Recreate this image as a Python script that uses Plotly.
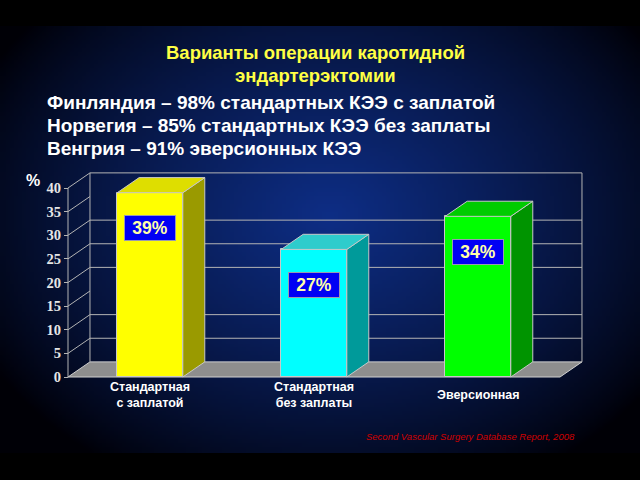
import base64, struct, zlib
import numpy as np
import plotly.graph_objects as go

# ---------------- data ----------------
categories = ["Стандартная<br>с заплатой", "Стандартная<br>без заплаты", "Эверсионная"]
values = [39, 27, 34]
value_labels = ["39%", "27%", "34%"]
y_ticks = [0, 5, 10, 15, 20, 25, 30, 35, 40]
back_grid = [5, 10, 20, 25, 30, 40]
title_lines = ["Варианты операции каротидной", "эндартерэктомии"]
body_lines = [
    "Финляндия – 98% стандартных КЭЭ с заплатой",
    "Норвегия – 85% стандартных КЭЭ без заплаты",
    "Венгрия – 91% эверсионных КЭЭ",
]
source_text = "Second Vascular Surgery Database Report, 2008"

# ---------------- style ----------------
front_colors = ["#ffff00", "#00ffff", "#00ff00"]
top_colors = ["#dede00", "#2ecccc", "#00cc00"]
side_colors = ["#9a9a00", "#009a9a", "#009400"]
edge = "#c8c8c8"
grid = "#b4b4b4"
FONT = "Arial, Liberation Sans, sans-serif"
W, H = 640, 480
BW = 0.4          # bar width (category units)
DX, DY = 0.134, 3.2   # depth offset (x in category units, y in value units)
XR = [-0.91463, 2.98780]
YR = [-21.799, 79.788]
n = len(values)
x0, x1 = -0.5, n - 0.5
top_val = y_ticks[-1]

# ---------------- background gradient image ----------------
def png_bytes(arr):
    h, w, _ = arr.shape
    raw = b"".join(b"\x00" + arr[r].tobytes() for r in range(h))
    def chunk(t, d):
        c = struct.pack(">I", len(d)) + t + d
        return c + struct.pack(">I", zlib.crc32(t + d) & 0xffffffff)
    return (b"\x89PNG\r\n\x1a\n" + chunk(b"IHDR", struct.pack(">IIBBBBB", w, h, 8, 2, 0, 0, 0))
            + chunk(b"IDAT", zlib.compress(raw, 9)) + chunk(b"IEND", b""))

gw, gh = 160, 107
yy, xx = np.mgrid[0:gh, 0:gw]
px = (xx + 0.5) / gw * 640
py = (yy + 0.5) / gh * 427
t = np.sqrt(((px - 330) / 390) ** 2 + ((py - 190) / 300) ** 2)
f = np.clip(1 - t, 0, 1) ** 0.8
c0 = np.array([14, 46, 134])
img = (f[..., None] * c0[None, None, :] + (1 - f[..., None]) * np.array([0, 0, 6])).clip(0, 255).astype(np.uint8)
bg_src = "data:image/png;base64," + base64.b64encode(png_bytes(img)).decode()

fig = go.Figure()

# ---------------- walls, floor and grid (shapes, below traces) ----------------
shapes = []
shapes.append(dict(type="path", xref="x", yref="y", layer="below",
                   path=f"M {x0},0 L {x1},0 L {x1+DX},{DY} L {x0+DX},{DY} Z",
                   fillcolor="#8e8e8e", line=dict(color="#d0d0d0", width=1)))
for v in back_grid:
    shapes.append(dict(type="line", xref="x", yref="y", layer="below",
                       x0=x0 + DX, x1=x1 + DX, y0=v + DY, y1=v + DY,
                       line=dict(color=grid, width=1)))
for xv in (x0 + DX, x1 + DX):
    shapes.append(dict(type="line", xref="x", yref="y", layer="below",
                       x0=xv, x1=xv, y0=DY, y1=top_val + DY, line=dict(color=grid, width=1)))
for v in y_ticks[1:]:
    shapes.append(dict(type="line", xref="x", yref="y", layer="below",
                       x0=x0, x1=x0 + DX, y0=v, y1=v + DY, line=dict(color=grid, width=1)))
shapes.append(dict(type="line", xref="x", yref="y", layer="below",
                   x0=x0, x1=x0, y0=0, y1=top_val, line=dict(color=grid, width=1)))

# ---------------- bars ----------------
xs = list(range(n))
fig.add_trace(go.Bar(x=xs, y=values, width=BW, marker=dict(color=front_colors, line=dict(color=edge, width=1)),
                     hoverinfo="skip", showlegend=False))
for i, v in enumerate(values):
    l, r = i - BW / 2, i + BW / 2
    fig.add_trace(go.Scatter(x=[r, r + DX, r + DX, r, r], y=[0, DY, v + DY, v, 0], mode="lines",
                             fill="toself", fillcolor=side_colors[i], line=dict(color=edge, width=1),
                             hoverinfo="skip", showlegend=False))
    fig.add_trace(go.Scatter(x=[l, r, r + DX, l + DX, l], y=[v, v, v + DY, v + DY, v], mode="lines",
                             fill="toself", fillcolor=top_colors[i], line=dict(color=edge, width=1),
                             hoverinfo="skip", showlegend=False))

# ---------------- annotations ----------------
ann = []
for i, v in enumerate(values):
    ann.append(dict(x=i, y=v - 7.5, xref="x", yref="y", text=f"<b>{value_labels[i]}</b>", showarrow=False,
                    bgcolor="#0000f4", bordercolor="#9a9ab0", borderwidth=1, borderpad=0, width=50, height=24,
                    font=dict(family=FONT, size=17.5, color="#ffffa8"), xanchor="center", yanchor="middle"))
for i, c in enumerate(categories):
    ann.append(dict(x=i, y=0, xref="x", yref="y", yshift=-18, text=f"<b>{c}</b>", showarrow=False,
                    font=dict(family=FONT, size=12.5, color="#ffffff"), xanchor="center", yanchor="middle"))
for k, (line, yc) in enumerate(zip(title_lines, [53, 75])):
    ann.append(dict(x=315 / W, y=1 - yc / H, xref="paper", yref="paper", text=f"<b>{line}</b>", showarrow=False,
                    font=dict(family=FONT, size=18.5, color="#ffff44"), xanchor="center", yanchor="middle"))
for k, (line, yc) in enumerate(zip(body_lines, [102, 125, 148])):
    ann.append(dict(x=45 / W, y=1 - yc / H, xref="paper", yref="paper", text=f"<b>{line}</b>",
                    showarrow=False, align="left", font=dict(family=FONT, size=19, color="#ffffff"),
                    xanchor="left", yanchor="middle"))
ann.append(dict(x=33 / W, y=1 - 180 / H, xref="paper", yref="paper", text="<b>%</b>", showarrow=False,
                font=dict(family=FONT, size=16, color="#ffffff"), xanchor="center", yanchor="middle"))
ann.append(dict(x=577 / W, y=1 - 436 / H, xref="paper", yref="paper", text=f"<i>{source_text}</i>", showarrow=False,
                font=dict(family=FONT, size=9.5, color="#d00000"), xanchor="right", yanchor="middle"))

fig.update_layout(
    width=W, height=H, margin=dict(l=0, r=0, t=0, b=0),
    template="none",
    paper_bgcolor="#000000", plot_bgcolor="rgba(0,0,0,0)",
    shapes=shapes, annotations=ann, showlegend=False, bargap=0,
    images=[dict(source=bg_src, xref="paper", yref="paper", x=0, y=1 - 26 / H, sizex=1, sizey=427 / H,
                 sizing="stretch", xanchor="left", yanchor="top", layer="below")],
    xaxis=dict(domain=[0, 1], range=XR, showgrid=False, zeroline=False, showticklabels=False,
               showline=False, ticks="", fixedrange=True),
    yaxis=dict(domain=[0, 1], range=YR, anchor="free", position=68 / W, tickvals=y_ticks,
               ticks="outside", ticklen=4, tickcolor=grid, automargin=False,
               tickfont=dict(family="Liberation Serif, Times New Roman, serif", size=14.5, color="#e6e6e6", weight="bold"),
               showgrid=False, zeroline=False, showline=False, fixedrange=True),
)
fig.write_html("out.html")
